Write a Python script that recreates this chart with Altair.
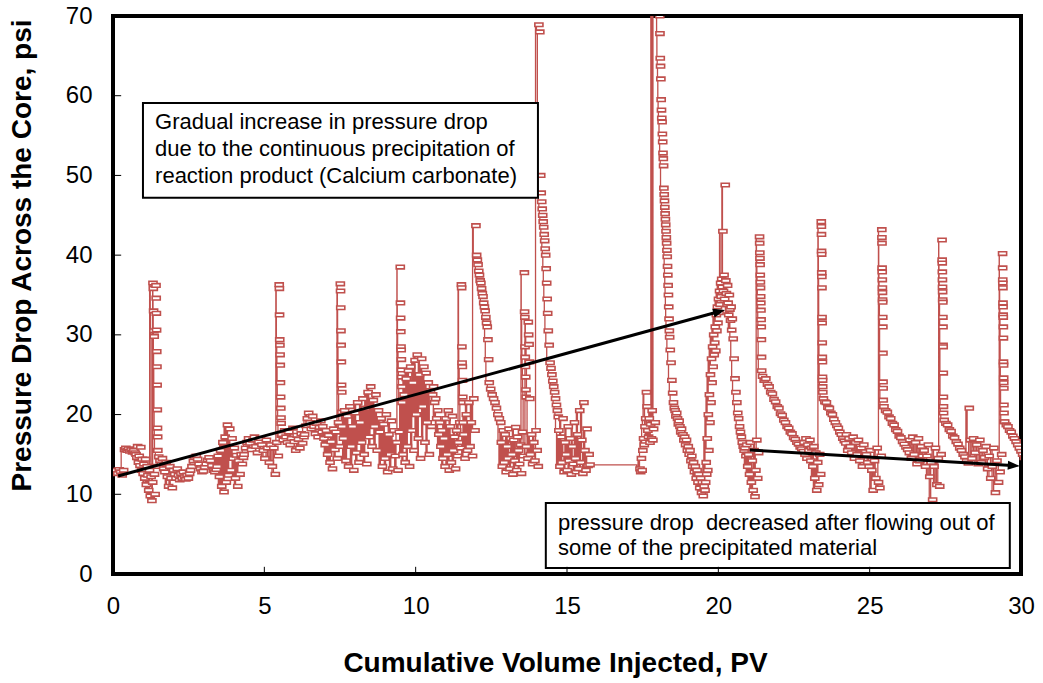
import altair as alt
import numpy as np
import pandas as pd

RED = "#C0504D"
FONT = "Liberation Sans"

# ---- pressure drop readings (psi), grouped in runs along the PV axis ----
# each run: (pv_start, pv_end), readings in order
s01 = ((0.00, 0.24), [13.0, 12.6, 13.1, 12.8, 12.4, 13.0])
s02 = ((0.27, 0.62), [15.6, 15.8, 15.5, 15.7, 15.4, 15.6, 15.3, 15.5, 15.2])
s03 = ((0.65, 1.20), [15.0, 14.6, 16.0, 14.0, 14.8, 13.6, 15.9, 13.0, 14.4, 12.6, 13.8,
                      12.0, 14.4, 11.2, 13.5, 12.4, 10.5, 13.0, 9.8, 12.2, 9.2, 11.5])
s04 = ((1.21, 1.25), [36.5, 35.8, 33.0, 30.5, 29.8])
s05 = ((1.26, 1.30), [12.5, 10.0, 13.5])
s06 = ((1.31, 1.37), [36.2, 34.6, 32.7, 30.6, 27.9, 26.0, 23.7, 20.6, 18.3, 17.2, 15.5])
s07 = ((1.40, 2.42), [14.7, 14.2, 13.8, 14.5, 13.2, 12.8, 14.0, 12.2, 11.0, 13.5, 12.0, 10.8,
                      13.0, 12.5, 12.0, 13.2, 12.4, 11.8, 12.6, 12.0, 12.8, 12.2, 11.9, 12.4,
                      12.0, 12.6])
s08 = ((2.45, 3.30), [13.0, 13.5, 14.2, 14.6, 14.8, 14.4, 13.8, 13.2, 12.8, 12.9, 13.4, 13.8,
                      14.3, 14.6, 14.2, 13.6, 13.0, 12.8, 13.1])
s09 = ((3.33, 4.20), [13.5, 14.8, 12.2, 15.5, 11.0, 16.5, 10.3, 17.2, 11.5, 18.7, 12.4, 18.2,
                      13.0, 17.0, 14.5, 15.8, 12.0, 14.9, 11.0, 14.2, 12.5, 15.0, 13.8, 14.6])
s10 = ((4.22, 5.35), [15.0, 15.8, 16.5, 17.0, 16.4, 15.6, 16.8, 17.2, 16.0, 15.2, 16.6, 17.0,
                      16.2, 15.5, 14.5, 16.8, 15.8, 14.0, 16.2, 13.5, 15.8, 12.5, 16.5, 14.8])
s11 = ((5.38, 5.45), [36.3, 35.8, 32.5, 29.4, 28.7, 27.5, 26.2, 24.0, 22.2, 20.8, 19.6, 18.9, 17.4])
s12 = ((5.47, 6.20), [17.5, 16.8, 18.0, 17.2, 16.5, 17.8, 16.2, 17.0, 18.3, 16.6, 15.5, 17.4,
                      16.9, 15.8, 17.6, 16.4, 17.2])
s13 = ((6.22, 6.80), [17.5, 18.6, 19.5, 20.2, 19.0, 18.2, 19.8, 18.5, 17.6, 18.9, 17.2, 18.4,
                      19.2, 17.8])
s14 = ((6.82, 7.38), [18.5, 17.0, 16.2, 18.0, 15.0, 17.4, 14.0, 16.6, 13.2, 18.2, 15.6, 17.8,
                      14.5, 19.0, 16.0])
s15 = ((7.40, 7.46), [36.4, 35.5, 33.4, 30.5, 28.7, 26.6, 23.7, 22.8, 20.3, 18.5])
s16 = ((7.50, 9.35), [17.0, 20.5, 14.2, 19.8, 13.5, 21.0, 16.0, 18.5, 13.0, 20.2, 15.2, 21.5,
                      14.0, 19.0, 16.5, 22.0, 15.0, 20.8, 13.8, 22.8, 17.2, 23.5, 16.0, 21.8,
                      18.5, 22.5, 15.5, 20.5, 17.8, 19.5, 13.5, 18.8, 14.5, 20.0, 12.8, 17.5,
                      15.0, 19.2, 13.2, 18.0, 14.8, 16.5, 13.0, 17.8])
s17 = ((9.38, 9.44), [38.5, 34.0, 32.1, 30.4, 28.5, 28.1, 26.9, 25.6, 24.7, 23.5, 21.5])
s18 = ((9.47, 10.45), [15.0, 22.5, 14.0, 24.5, 16.0, 25.5, 13.5, 26.0, 18.0, 24.0, 15.5, 26.8,
                       20.0, 27.5, 17.0, 25.0, 14.5, 27.0, 21.0, 26.0, 16.5, 25.2, 19.0, 24.0,
                       15.0, 23.0, 18.5, 22.5])
s19 = ((10.48, 11.38), [23.5, 21.5, 22.0, 19.5, 20.5, 17.5, 19.0, 16.0, 18.0, 14.5, 17.0, 13.5,
                        19.5, 15.0, 20.5, 13.0, 18.5, 14.0, 19.8, 15.5, 17.2, 13.2, 18.0, 14.8,
                        16.5, 19.0, 15.8])
s20 = ((11.40, 11.46), [36.3, 35.9, 28.5, 26.5, 26.0, 24.3, 22.2, 21.5, 19.0])
s21 = ((11.48, 11.85), [17.5, 14.5, 20.0, 15.5, 21.5, 16.0, 19.0, 14.8, 22.0, 18.0])
s22 = ((11.88, 12.30), [43.7, 40.0, 39.4, 38.8, 38.0, 37.5, 36.8, 36.5, 35.8, 35.2, 34.8, 34.0,
                        33.5, 33.0, 32.2, 31.5, 31.0, 29.4, 26.9])
s23 = ((12.32, 12.70), [24.0, 23.2, 22.5, 22.0, 21.5, 20.8, 20.0, 19.5, 19.0])
s24 = ((12.72, 13.45), [16.5, 13.5, 18.0, 14.0, 17.5, 12.8, 16.0, 14.5, 18.2, 13.2, 17.0, 15.0,
                        12.5, 16.8, 14.2, 18.4, 13.0, 17.2, 15.5, 13.8, 16.2, 12.6, 17.8, 14.8])
s25 = ((13.48, 13.54), [37.8, 32.9, 32.2, 28.5, 27.2, 26.0, 24.7, 23.1, 22.2])
s26 = ((13.55, 13.60), [16.0, 14.5])
s27 = ((13.61, 13.66), [31.6, 30.0, 28.8, 26.6, 22.0])
s28 = ((13.68, 13.94), [15.0, 17.5, 13.8, 16.5, 14.2, 18.0, 15.5, 13.5])
s29 = ((13.96, 13.99), [68.9, 68.0])
s30 = ((14.02, 14.25), [50.0, 47.8, 46.7, 45.8, 45.0, 44.2, 43.5, 42.6, 41.8, 40.8, 40.0, 38.3,
                        36.5, 34.5, 32.7])
s31 = ((14.27, 14.60), [30.5, 28.7, 26.5, 25.8, 25.0, 24.2, 23.5, 22.8, 22.0, 21.2, 20.5, 19.7])
s32 = ((14.62, 15.62), [18.0, 13.5, 17.2, 14.0, 19.5, 12.8, 16.5, 15.0, 13.0, 18.5, 14.2, 17.0,
                        12.5, 16.0, 13.8, 19.0, 14.5, 12.8, 17.5, 13.2, 20.5, 14.0, 16.8, 12.6,
                        21.5, 15.5, 13.0, 18.2, 13.6, 15.0])
s33 = ((15.65, 15.65), [13.7])
s34 = ((17.30, 17.75), [13.2, 12.8, 14.5, 13.0, 15.5, 17.0, 16.2, 18.5, 19.5, 22.8, 21.0, 18.0,
                        17.2, 19.5, 16.5, 18.8, 17.0, 20.5, 16.8, 18.2])
s35 = ((17.77, 17.84), [75.0, 19.0, 75.0])
s36 = ((17.95, 18.28), [70.0, 67.8, 64.7, 63.7, 62.1, 59.5, 58.2, 57.2, 56.7, 55.2, 54.2, 52.8,
                        52.1, 51.2, 48.4, 47.6, 46.8, 46.0, 45.2, 44.5, 43.8, 43.0, 42.2, 41.5,
                        40.6, 39.8, 38.6, 37.5, 36.2, 35.0, 33.5, 32.0, 30.5, 29.7])
s37 = ((18.30, 18.70), [28.1, 26.5, 24.3, 22.7, 21.5, 20.8, 20.5, 19.8, 20.2, 19.5, 18.8, 19.2,
                        18.5, 17.8, 18.2, 17.5])
s38 = ((18.72, 19.45), [17.5, 16.8, 17.2, 16.2, 16.8, 15.5, 16.0, 15.0, 15.5, 14.2, 14.8, 13.5,
                        14.0, 12.8, 13.5, 12.0, 13.0, 11.5, 12.5, 10.8, 12.0, 10.2, 11.5, 9.8,
                        11.0, 10.5])
s39 = ((19.47, 20.00), [11.5, 14.0, 12.5, 17.0, 13.0, 20.0, 15.5, 22.5, 19.0, 25.0, 21.5, 27.0,
                        24.0, 28.5, 26.0, 30.0, 27.5, 29.0, 31.0, 28.0, 32.5, 30.5, 33.5, 31.5,
                        34.5, 32.8, 35.5, 33.8, 36.5, 34.8, 37.0])
s40 = ((20.02, 20.33), [36.0, 43.0, 35.5, 37.5, 34.5, 48.8, 36.8, 35.2, 33.8, 36.2, 34.0, 32.5,
                        35.0, 33.2, 31.8, 33.5, 30.6])
s41 = ((20.35, 21.22), [32.0, 29.5, 27.0, 24.5, 22.8, 21.5, 20.2, 19.5, 18.5, 17.8, 17.2, 16.5,
                        16.0, 15.5, 15.8, 14.8, 16.2, 13.5, 15.0, 12.5, 16.5, 11.5, 14.2, 10.5,
                        15.5, 9.7, 13.0, 16.8, 12.0, 15.2])
s42 = ((21.25, 21.32), [42.3, 41.5, 40.3, 39.6, 38.8, 37.5, 36.6, 35.9, 34.8, 34.0, 33.1, 31.9,
                        31.0, 29.4, 27.2, 25.5])
s43 = ((21.35, 22.70), [24.8, 24.3, 24.5, 23.8, 23.5, 22.8, 22.6, 21.9, 21.6, 21.0, 20.8, 20.1,
                        19.9, 19.3, 19.0, 18.5, 18.3, 17.8, 17.6, 17.1, 16.9, 16.5, 16.3, 15.9,
                        15.7, 15.4])
s44 = ((22.72, 23.27), [16.5, 15.0, 17.0, 14.5, 16.2, 15.5, 16.8, 14.2, 15.8, 13.5, 16.0, 12.0,
                        15.2, 10.5, 14.0, 11.2, 15.0, 12.5])
s45 = ((23.29, 23.34), [44.2, 43.6, 42.6, 40.5, 40.1, 37.8, 37.3, 35.9, 32.2, 31.5, 29.0, 27.2,
                        26.6, 24.7, 24.3, 23.5, 22.8])
s46 = ((23.36, 24.10), [22.0, 21.6, 21.5, 20.9, 20.8, 20.2, 20.0, 19.4, 19.0, 18.6, 18.3, 17.8,
                        17.5, 17.0, 16.7, 16.4])
s47 = ((24.12, 25.27), [17.5, 15.5, 17.0, 16.0, 15.2, 17.2, 14.5, 16.5, 15.0, 16.8, 14.2, 15.8,
                        13.5, 16.2, 14.8, 15.0, 14.0, 13.5, 15.5, 13.0, 10.5, 14.2, 12.0, 15.8,
                        11.5, 10.8, 14.8])
s48 = ((25.29, 25.34), [43.2, 42.2, 41.5, 38.4, 37.9, 36.9, 35.9, 35.3, 34.4, 34.1, 32.2, 31.0,
                        27.7, 24.1, 23.3, 21.8, 21.0])
s49 = ((25.36, 26.20), [21.0, 20.5, 20.3, 19.7, 19.5, 18.9, 18.7, 18.1, 17.9, 17.3, 17.1, 16.6,
                        16.3, 15.9, 15.6, 15.2])
s50 = ((26.22, 27.25), [16.8, 14.5, 17.2, 15.0, 16.5, 13.8, 17.0, 14.2, 16.0, 14.8, 15.5, 13.5,
                        14.8, 16.2, 12.2, 14.0, 9.3, 13.5, 15.8, 11.2, 14.5, 11.0, 15.0])
s51 = ((27.28, 27.33), [41.9, 39.4, 39.0, 37.9, 36.9, 36.0, 35.4, 34.4, 34.1, 32.2, 31.0, 28.7,
                        28.5, 25.2, 22.2, 21.0, 20.2])
s52 = ((27.35, 28.15), [19.3, 18.9, 18.7, 18.1, 17.9, 17.3, 17.1, 16.6, 16.3, 15.8, 15.5, 15.0,
                        14.7, 14.2, 13.9])
s53 = ((28.18, 28.18), [20.8])
s54 = ((28.22, 29.25), [16.8, 14.5, 17.0, 15.2, 16.2, 13.8, 16.8, 14.0, 15.5, 14.6, 16.0, 13.2,
                        14.8, 12.0, 13.5, 15.8, 10.2, 14.2, 11.5, 12.8, 15.0])
s55 = ((29.28, 29.33), [40.2, 38.4, 36.9, 36.5, 35.9, 34.0, 33.5, 32.5, 32.2, 31.0, 29.6, 26.6,
                        26.2, 24.6, 24.0, 23.3, 21.2, 20.2, 19.1])
s56 = ((29.35, 30.05), [19.1, 18.7, 18.5, 18.0, 17.8, 17.3, 17.0, 16.6, 16.2, 15.8, 15.4, 15.0,
                        14.6, 14.3])

RUNS = [s01, s02, s03, s04, s05, s06, s07, s08, s09, s10, s11, s12, s13, s14, s15, s16, s17,
        s18, s19, s20, s21, s22, s23, s24, s25, s26, s27, s28, s29, s30, s31, s32, s33, s34,
        s35, s36, s37, s38, s39, s40, s41, s42, s43, s44, s45, s46, s47, s48, s49, s50, s51,
        s52, s53, s54, s55, s56]

# axis ticks
X_TICKS = [0, 5, 10, 15, 20, 25, 30]
Y_TICKS = [0, 10, 20, 30, 40, 50, 60, 70]

# annotation texts
BOX1_LINES = ["Gradual increase in pressure drop",
              "due to the continuous precipitation of",
              "reaction product (Calcium carbonate)"]
BOX2_LINES = ["pressure drop\u00a0 decreased after flowing out of",
              "some of the precipitated material"]

# ---- build the table ----
rows = []
for (x0, x1), ys in RUNS:
    xs = np.linspace(x0, x1, len(ys)) if len(ys) > 1 else [x0]
    rows.extend(zip(xs, ys))
df = pd.DataFrame(rows, columns=["pv", "dp"])
df["order"] = np.arange(len(df))

xs = alt.Scale(domain=[0, 30], nice=False, zero=False)
ys = alt.Scale(domain=[0, 70], nice=False, zero=False)

X_TITLE = "Cumulative Volume Injected, PV"
Y_TITLE = "Pressure Drop Across the Core, psi"
x_axis = alt.Axis(values=X_TICKS, ticks=False, domain=False, grid=False, labelFlush=False,
                  labelFont=FONT, labelFontSize=24, labelColor="black", labelPadding=20,
                  title=X_TITLE, titleFont=FONT, titleFontSize=28,
                  titleFontWeight="bold", titleColor="black", titleX=442, titleY=89,
                  titleBaseline="middle", titleAlign="center")
y_axis = alt.Axis(values=Y_TICKS, ticks=False, domain=False, grid=False, labelFlush=False,
                  labelFont=FONT, labelFontSize=24, labelColor="black", labelPadding=21,
                  title=Y_TITLE, titleFont=FONT, titleFontSize=28,
                  titleFontWeight="bold", titleColor="black", titleX=-91, titleY=239,
                  titleAngle=270, titleBaseline="middle", titleAlign="center")


def X(field):
    return alt.X(field, scale=xs, axis=x_axis, title=X_TITLE)


def Y(field):
    return alt.Y(field, scale=ys, axis=y_axis, title=Y_TITLE)


line = alt.Chart(df).mark_line(interpolate="step-after", color=RED, strokeWidth=1.3,
                               clip=True).encode(
    x=X("pv:Q"), y=Y("dp:Q"), order="order:Q",
)

MARK_PATH = "M-0.15,-0.4L1.65,-0.4L1.65,0.4L-0.15,0.4Z"
points = alt.Chart(df).mark_point(shape=MARK_PATH, size=81, filled=True, fill="white",
                                  stroke=RED, strokeWidth=1.6, opacity=1,
                                  clip=True).encode(x=X("pv:Q"), y=Y("dp:Q"))

# inward tick marks
xt = pd.DataFrame({"v": [5, 10, 15, 20, 25], "a": 0.0, "b": 0.9})
yt = pd.DataFrame({"v": [10, 20, 30, 40, 50, 60], "a": 0.0, "b": 0.27})
xtick = alt.Chart(xt).mark_rule(color="black", strokeWidth=1).encode(
    x=X("v:Q"), y=Y("a:Q"), y2="b:Q")
ytick = alt.Chart(yt).mark_rule(color="black", strokeWidth=1).encode(
    y=Y("v:Q"), x=X("a:Q"), x2="b:Q")

# annotation boxes
boxes = pd.DataFrame({"x1": [0.99, 14.3], "x2": [14.04, 29.63],
                      "y1": [59.1, 8.9], "y2": [47.2, 0.75]})
box = alt.Chart(boxes).mark_rect(fill="white", stroke="black", strokeWidth=2).encode(
    x=X("x1:Q"), x2="x2:Q", y=Y("y1:Q"), y2="y2:Q")

texts = pd.DataFrame({
    "t": BOX1_LINES + BOX2_LINES,
    "x": [1.39, 1.39, 1.39, 14.70, 14.70],
    "y": [56.7, 53.3, 49.9, 6.4, 3.2],
})
text = alt.Chart(texts).mark_text(align="left", baseline="middle", font=FONT, fontSize=22,
                                  color="black").encode(
    x=X("x:Q"), y=Y("y:Q"), text="t:N")

# arrows
arrows = pd.DataFrame({"x1": [0.17, 21.04], "y1": [12.3, 15.56],
                       "x2": [19.97, 29.70], "y2": [32.86, 13.61]})
arrow_lines = alt.Chart(arrows).mark_rule(color="black", strokeWidth=3).encode(
    x=X("x1:Q"), y=Y("y1:Q"), x2="x2:Q", y2="y2:Q")
heads = pd.DataFrame({"x": [20.22, 29.96], "y": [33.12, 13.55], "ang": [344.7, 3.4]})
arrow_heads = alt.Chart(heads).mark_point(shape="M-2,-0.75L0,0L-2,0.75Z", size=144,
                                          filled=True, color="black", opacity=1).encode(
    x=X("x:Q"), y=Y("y:Q"), angle=alt.Angle("ang:Q", scale=None))

chart = alt.layer(line, points, box, text, arrow_lines, arrow_heads, xtick, ytick).properties(
    width=908, height=558,
    autosize=alt.AutoSizeParams(type="none"),
    padding={"left": 113, "top": 16, "right": 22, "bottom": 109},
    background="white",
).configure_view(stroke="black", strokeWidth=4)

chart.save("out.html", embed_options={"renderer": "svg", "actions": False})
